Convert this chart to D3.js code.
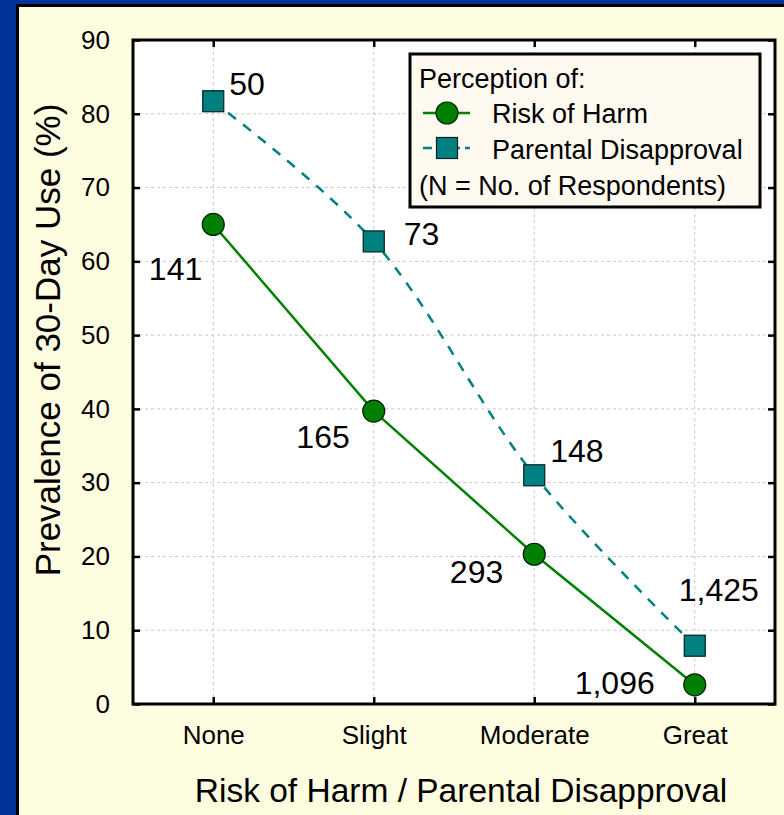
<!DOCTYPE html>
<html>
<head>
<meta charset="utf-8">
<script src="https://cdn.jsdelivr.net/npm/d3@7"></script>
<style>
  body { margin: 0; background: #003399; }
  text { font-family: Arial, "Liberation Sans", sans-serif; fill: #000; }
</style>
</head>
<body>
<svg id="chart" width="784" height="815"></svg>
<script>
// data
var categories = ["None", "Slight", "Moderate", "Great"];
var yTicks = [0, 10, 20, 30, 40, 50, 60, 70, 80, 90];
var riskValues = [65.0, 39.7, 20.3, 2.6];
var parentValues = [81.7, 62.7, 31.0, 7.9];
var riskN = ["141", "165", "293", "1,096"];
var parentN = ["50", "73", "148", "1,425"];

var svg = d3.select("#chart"),
    width = 784,
    height = 815;

var plot = {left: 133, right: 775, top: 40, bottom: 704};

// slide background + panel
svg.append("rect").attr("width", width).attr("height", height).attr("fill", "#003399");
svg.append("rect").attr("x", 16).attr("y", 4).attr("width", 800).attr("height", 850).attr("fill", "#000");
svg.append("rect").attr("x", 19).attr("y", 7).attr("width", 800).attr("height", 850).attr("fill", "#fffde0");

var x = d3.scalePoint().domain(categories).range([plot.left, plot.right]).padding(0.5),
    y = d3.scaleLinear().domain([0, 90]).range([plot.bottom, plot.top]);

var g = svg.append("g");

g.append("rect")
    .attr("x", plot.left).attr("y", plot.top)
    .attr("width", plot.right - plot.left).attr("height", plot.bottom - plot.top)
    .attr("fill", "#fff");

// grid
g.selectAll(".hgrid").data(yTicks.slice(1, -1)).enter().append("line")
    .attr("x1", plot.left).attr("x2", plot.right)
    .attr("y1", function(d) { return y(d); }).attr("y2", function(d) { return y(d); })
    .attr("stroke", "#c8c8c8").attr("stroke-dasharray", "3,3");
g.selectAll(".vgrid").data(categories).enter().append("line")
    .attr("y1", plot.top).attr("y2", plot.bottom)
    .attr("x1", function(d) { return x(d); }).attr("x2", function(d) { return x(d); })
    .attr("stroke", "#c8c8c8").attr("stroke-dasharray", "3,3");

// axes, ticks pointing inward on all four sides
var axLeft = g.append("g").attr("transform", "translate(" + plot.left + ",0)")
    .call(d3.axisLeft(y).tickValues(yTicks).tickSize(-7).tickPadding(23));
var axRight = g.append("g").attr("transform", "translate(" + plot.right + ",0)")
    .call(d3.axisRight(y).tickValues(yTicks).tickSize(-7).tickFormat(""));
var axBottom = g.append("g").attr("transform", "translate(0," + plot.bottom + ")")
    .call(d3.axisBottom(x).tickSize(-7).tickPadding(22));
var axTop = g.append("g").attr("transform", "translate(0," + plot.top + ")")
    .call(d3.axisTop(x).tickSize(-7).tickFormat(""));

[axLeft, axRight, axBottom, axTop].forEach(function(a) {
  a.attr("font-size", 26).attr("font-family", "Arial, 'Liberation Sans', sans-serif");
  a.select(".domain").remove();
  a.selectAll(".tick line").attr("stroke", "#000").attr("stroke-width", 2.5);
  a.selectAll(".tick text").attr("fill", "#000");
});

g.append("rect")
    .attr("x", plot.left).attr("y", plot.top)
    .attr("width", plot.right - plot.left).attr("height", plot.bottom - plot.top)
    .attr("fill", "none").attr("stroke", "#000").attr("stroke-width", 3);

// axis titles
svg.append("text")
    .attr("x", 461).attr("y", 802)
    .attr("text-anchor", "middle").attr("font-size", 33.5)
    .text("Risk of Harm / Parental Disapproval");
svg.append("text")
    .attr("transform", "translate(60,340) rotate(-90)")
    .attr("text-anchor", "middle").attr("font-size", 35)
    .text("Prevalence of 30-Day Use (%)");

// lines
var riskLine = d3.line()
    .x(function(d, i) { return x(categories[i]); })
    .y(function(d) { return y(d); });
var parentLine = d3.line()
    .x(function(d, i) { return x(categories[i]); })
    .y(function(d) { return y(d); })
    .curve(d3.curveCatmullRom);

g.append("path").datum(parentValues)
    .attr("d", parentLine).attr("fill", "none")
    .attr("stroke", "#008080").attr("stroke-width", 2.5).attr("stroke-dasharray", "10,9");
g.append("path").datum(riskValues)
    .attr("d", riskLine).attr("fill", "none")
    .attr("stroke", "#008000").attr("stroke-width", 2.5);

g.selectAll(".sq").data(parentValues).enter().append("rect")
    .attr("x", function(d, i) { return x(categories[i]) - 10.5; })
    .attr("y", function(d) { return y(d) - 10.5; })
    .attr("width", 21).attr("height", 21)
    .attr("fill", "#008080").attr("stroke", "#002020").attr("stroke-width", 1.2);
g.selectAll(".dot").data(riskValues).enter().append("circle")
    .attr("cx", function(d, i) { return x(categories[i]); })
    .attr("cy", function(d) { return y(d); })
    .attr("r", 11)
    .attr("fill", "#008000").attr("stroke", "#002000").attr("stroke-width", 1.2);

// N labels (offsets from each marker)
var riskDx = [-11, -24, -31, -40], riskDy = [56, 37, 29, 9];
var parentDx = [16, 30, 16, -16], parentDy = [-6, 4, -13, -45];

g.selectAll(".rlab").data(riskN).enter().append("text")
    .attr("x", function(d, i) { return x(categories[i]) + riskDx[i]; })
    .attr("y", function(d, i) { return y(riskValues[i]) + riskDy[i]; })
    .attr("text-anchor", "end").attr("font-size", 32)
    .text(function(d) { return d; });
g.selectAll(".plab").data(parentN).enter().append("text")
    .attr("x", function(d, i) { return x(categories[i]) + parentDx[i]; })
    .attr("y", function(d, i) { return y(parentValues[i]) + parentDy[i]; })
    .attr("font-size", 32)
    .text(function(d) { return d; });

// legend
var legend = svg.append("g");
legend.append("rect")
    .attr("x", 410).attr("y", 54).attr("width", 350).attr("height", 153)
    .attr("fill", "#fffaf0").attr("stroke", "#000").attr("stroke-width", 3);
legend.append("text").attr("x", 419).attr("y", 88).attr("font-size", 27).text("Perception of:");

legend.append("line").attr("x1", 423).attr("x2", 470).attr("y1", 113).attr("y2", 113)
    .attr("stroke", "#008000").attr("stroke-width", 2.5);
legend.append("circle").attr("cx", 447).attr("cy", 113).attr("r", 11)
    .attr("fill", "#008000").attr("stroke", "#002000").attr("stroke-width", 1.2);
legend.append("text").attr("x", 492).attr("y", 123).attr("font-size", 27).text("Risk of Harm");

legend.append("line").attr("x1", 423).attr("x2", 470).attr("y1", 148).attr("y2", 148)
    .attr("stroke", "#008080").attr("stroke-width", 2.5).attr("stroke-dasharray", "9,5");
legend.append("rect").attr("x", 436.5).attr("y", 137.5).attr("width", 21).attr("height", 21)
    .attr("fill", "#008080").attr("stroke", "#002020").attr("stroke-width", 1.2);
legend.append("text").attr("x", 492).attr("y", 159).attr("font-size", 27).text("Parental Disapproval");

legend.append("text").attr("x", 419).attr("y", 195).attr("font-size", 27).text("(N = No. of Respondents)");
</script>
</body>
</html>
